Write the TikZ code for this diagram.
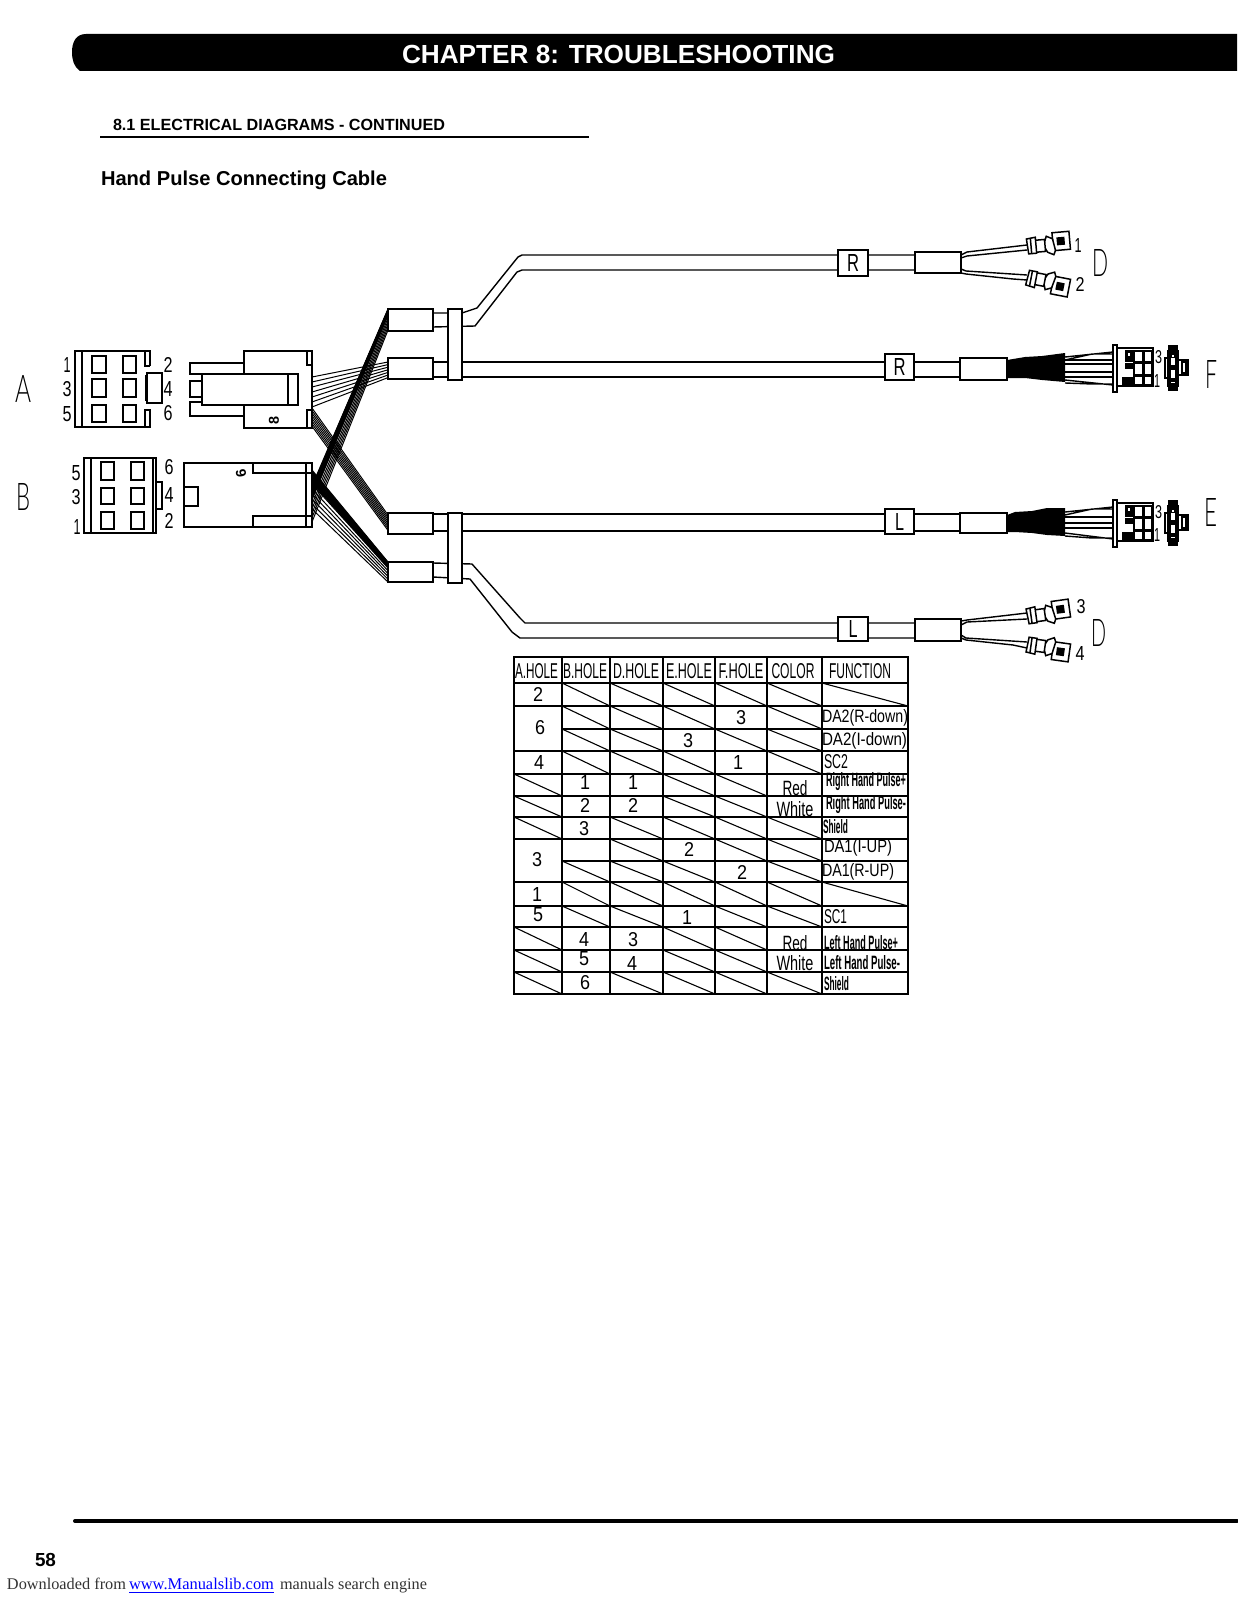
\documentclass[tikz,border=0pt]{standalone}
\usepackage{fontspec}
\setmainfont{Liberation Sans}
\newfontfamily\serifn{Liberation Serif}
\newfontfamily\thinf{Lato Light}
\newdimen\pxu \pxu=.5pt
\newcommand\cad[3]{\resizebox{#1\pxu}{#2\pxu}{#3}}
\newcommand\cadtxt[6][]{\node[txt,#1] (#2) at (#3) {\cad{#4}{#5}{#6}};}
\newcommand\biglet[5]{\node[txt] (#1) at (#2) {\cad{#3}{#4}{\thinf #5}};}
\newcommand\wbox[5]{%
 \pgfmathsetmacro\bxw{(#4-#2)*.5}\pgfmathsetmacro\bxh{(#5-#3)*.5}%
 \node[boxs,minimum width=\bxw pt,minimum height=\bxh pt] (#1) at ({(#2+#4)/2},{(#3+#5)/2}) {};}
\newcommand\termn[4]{%
 \begin{scope}[shift={(#1,#2)},rotate=#3,yscale=#4,line width=.75pt,fill=white]
  \draw (0,-7) -- (9,-8) -- (9,8) -- (1,8) -- cycle;
  \draw (9,-5) -- (18,-5) -- (18,7) -- (9,7);
  \draw (4,-7) -- (4,8);
  \draw (18,-3) -- (20,-8) -- (26,-5) -- (26,-11) -- (43,-11) -- (43,7) -- (28,7) -- (26,11) -- (20,8) -- (18,4);
  \draw (26,-5) -- (28,7);
  \fill[black] (30,-6) rectangle (38,2);
 \end{scope}}
\newcommand\plug[1]{%
 \begin{scope}[shift={(0,#1)}]
  \draw[wire,fill=white] (1113,345) rectangle (1117,392);
  \draw[wire,fill=white] (1117,348) rectangle (1153,386);
  \fill (1125,350) rectangle (1153,362);
  \fill (1125,363) rectangle (1133,369);
  \fill (1122,377) rectangle (1153,385);
  \fill (1133,362) rectangle (1153,385);
  \fill[white] (1128,353) rectangle (1130,356);
  \foreach \ya/\yb in {352/361,364/374,377/384}{
   \fill[white] (1135,\ya) rectangle (1142,\yb);
   \fill[white] (1145,\ya) rectangle (1151,\yb);}
  \draw[wire,fill=white] (1165,358) rectangle (1170,378);
  \draw[wire,fill=white] (1178,360) rectangle (1188,375);
  \draw[wire] (1182,362) rectangle (1186,373);
  \fill (1168,345) rectangle (1178,351);
  \fill (1168,386) rectangle (1178,391);
  \draw[wire,fill=white] (1168,351) rectangle (1178,386);
  \draw[wire] (1170,353) rectangle (1176,384);
  \fill (1171,354) rectangle (1175,358);
  \fill (1171,365) rectangle (1175,370);
  \fill (1171,378) rectangle (1175,382);
  \fill[white] (1172,355) rectangle (1174,357);
 \end{scope}}
\tikzset{
 boxs/.style={draw,fill=white,inner sep=0pt,outer sep=0pt,line width=.8pt},
 txt/.style={inner sep=0pt,outer sep=0pt},
 wire/.style={line width=.7pt},
 fine/.style={line width=.5pt},
 grid/.style={line width=.75pt},
 diag/.style={line width=.55pt},
}
\begin{document}
\begin{tikzpicture}[x=.5pt,y=-.5pt]
\useasboundingbox (0,0) rectangle (1237,1600);
\fill[white] (0,0) rectangle (1237,1600);
% header
\fill (1237,34) -- (86,34) .. controls (76,34) and (72,42) .. (72,52) .. controls (72,60) and (74,67) .. (80,71) -- (1237,71) -- cycle;
\node[txt,anchor=west,text=white] (title) at (402,54) {\resizebox{216.5pt}{!}{\bfseries CHAPTER 8: TROUBLESHOOTING}};
\node[txt,anchor=base west] (sect) at (113,131) {\resizebox{166pt}{!}{\bfseries 8.1 ELECTRICAL DIAGRAMS - CONTINUED}};
\draw[line width=1pt] (100,137) -- (589,137);
\node[txt,anchor=base west] (head) at (101,185) {\resizebox{143pt}{!}{\bfseries Hand Pulse Connecting Cable}};
% footer
\draw[line width=2pt,line cap=round] (75,1521) -- (1237,1521);
\node[txt] (pg) at (45.5,1560) {\resizebox{10.5pt}{!}{\bfseries 58}};
\node[txt,anchor=base west,text=black!80] (dl1) at (7,1589) {\resizebox{59.5pt}{!}{\serifn Downloaded from}};
\node[txt,anchor=base west,text=blue] (dl2) at (129,1589) {\resizebox{72.5pt}{!}{\serifn www.Manualslib.com}};
\draw[blue,line width=.4pt] (129,1592) -- (274,1592);
\node[txt,anchor=base west,text=black!80] (dl3) at (280,1589) {\resizebox{73.5pt}{!}{\serifn manuals search engine}};
% wire bundles
\foreach \t in {0,...,6} \draw[fine] (312,377+5*\t) -- (388,362+2.6*\t);
\foreach \t in {0,...,7} \draw[fine] (312,408+2.6*\t) -- (388,515+2.2*\t);
\foreach \t in {0,...,14} \draw[fine] (312,486+.9*\t) -- (388,309+.4*\t);
\foreach \t in {0,...,5} \draw[fine] (312,500+4.4*\t) -- (388,315+3*\t);
\foreach \t in {0,...,14} \draw[fine] (312,470+.9*\t) -- (388,562+.4*\t);
\foreach \t in {0,...,5} \draw[fine] (312,484+5*\t) -- (388,568+2.8*\t);
% connector A front
\draw[wire] (150,366) -- (150,351) -- (75,351) -- (75,427) -- (150,427) -- (150,410) -- (145,410) -- (145,427);
\draw[wire] (82,351) -- (82,427) (145,351) -- (145,366) -- (150,366);
\draw[wire] (92,356) rectangle (106,373) (123,356) rectangle (136,373);
\draw[wire] (92,379) rectangle (106,397) (123,379) rectangle (136,397);
\draw[wire] (92,405) rectangle (106,422) (123,405) rectangle (136,422);
\draw[wire] (147,373) rectangle (162,403);
\draw[line width=1.1pt] (146,375) -- (146,401);
% connector B front
\draw[wire] (84,458) rectangle (156,533) (91,458) -- (91,533) (153,458) -- (153,533);
\draw[wire] (101,462) rectangle (114,480) (131,462) rectangle (144,480);
\draw[wire] (101,488) rectangle (114,504) (131,488) rectangle (144,504);
\draw[wire] (101,512) rectangle (114,529) (131,512) rectangle (144,529);
\draw[wire] (156,482) -- (162,482) -- (162,509) -- (156,509);
% connector A side
\draw[wire] (244,373) -- (244,351) -- (312,351) -- (312,428) -- (244,428) -- (244,405);
\draw[wire] (244,363) -- (190,363) -- (190,374) -- (202,374);
\draw[wire] (202,381) -- (190,381) -- (190,397) -- (202,397);
\draw[wire] (202,402) -- (190,402) -- (190,416) -- (244,416);
\draw[wire] (202,374) rectangle (298,405) (288,374) -- (288,405);
\draw[wire] (307,351) -- (307,365) -- (312,365) (307,428) -- (307,410) -- (312,410);
\node[txt,rotate=90] (a8) at (274,420) {\cad{8}{10}{\bfseries 8}};
% connector B side
\draw[wire] (184,463) rectangle (312,527);
\draw[wire] (253,463) -- (253,473) -- (312,473) (253,527) -- (253,516) -- (312,516) (306,463) -- (306,527);
\draw[wire] (184,487) -- (198,487) -- (198,506) -- (184,506);
\node[txt,rotate=100] (b6) at (241,473) {\cad{8}{10}{\bfseries 6}};
% connector labels
\biglet{lA}{24,389}{16}{27}{A}
\biglet{lB}{23,497}{14}{27}{B}
\cadtxt{a1}{67,365}{7}{15}{1}
\cadtxt{a3}{67,389}{9}{15}{3}
\cadtxt{a5}{67,414}{9}{15}{5}
\cadtxt{a2}{168,365}{9}{15}{2}
\cadtxt{a4}{168,389}{9}{15}{4}
\cadtxt{a6}{168,413}{9}{15}{6}
\cadtxt{b5}{76,473}{9}{15}{5}
\cadtxt{b3}{76,497}{9}{15}{3}
\cadtxt{b1}{77,527}{7}{15}{1}
\cadtxt{b6t}{169,467}{9}{15}{6}
\cadtxt{b4}{169,495}{9}{15}{4}
\cadtxt{b2}{169,521}{9}{15}{2}
% cables: upper D
\coordinate (c1a) at (433,313); \coordinate (c1b) at (433,327);
\coordinate (s1a) at (915,255); \coordinate (s1b) at (915,270);
\draw[wire] (c1a) -- (462,313) -- (477,308) -- (518,257) -- (522,255) -- (s1a);
\draw[wire] (c1b) -- (475,326) -- (517,272) -- (522,270) -- (s1b);
% cable F
\coordinate (c2a) at (433,362); \coordinate (c2b) at (433,377);
\coordinate (s2a) at (960,362); \coordinate (s2b) at (960,377);
\draw[wire] (c2a) -- (s2a) (c2b) -- (s2b);
% cable E
\coordinate (c3a) at (433,514); \coordinate (c3b) at (433,531);
\coordinate (s3a) at (960,514); \coordinate (s3b) at (960,531);
\draw[wire] (c3a) -- (s3a) (c3b) -- (s3b);
% lower D
\coordinate (c4a) at (433,563); \coordinate (c4b) at (433,577);
\coordinate (s4a) at (915,623); \coordinate (s4b) at (915,638);
\draw[wire] (c4a) -- (472,564) -- (520,618) -- (525,623) -- (s4a);
\draw[wire] (c4b) -- (470,579) -- (512,632) -- (520,638) -- (s4b);
% boxes
\wbox{w1}{388}{309}{433}{331}
\wbox{w2}{388}{358}{433}{379}
\wbox{w3}{388}{513}{433}{534}
\wbox{w4}{388}{562}{433}{582}
\wbox{cl1}{448}{309}{462}{380}
\wbox{cl2}{448}{513}{462}{583}
\wbox{rb1}{838}{250}{868}{276}
\wbox{sl1}{915}{252}{961}{273}
\wbox{rb2}{885}{354}{914}{380}
\wbox{sl2}{960}{358}{1007}{380}
\wbox{lb3}{885}{509}{914}{534}
\wbox{sl3}{960}{513}{1007}{533}
\wbox{lb4}{838}{617}{868}{641}
\wbox{sl4}{915}{619}{961}{641}
\cadtxt{tR1}{rb1}{12}{17}{R}
\cadtxt{tR2}{rb2}{12}{17}{R}
\cadtxt{tL3}{lb3}{9}{17}{L}
\cadtxt{tL4}{lb4}{9}{17}{L}
% blobs
\fill (1007,360) -- (1025,357) -- (1042,356) -- (1065,353) -- (1065,382) -- (1042,380) -- (1025,378) -- (1007,378) -- cycle;
\fill (1007,515) -- (1015,512) -- (1032,511) -- (1047,508) -- (1065,508) -- (1065,536) -- (1047,535) -- (1032,533) -- (1015,532) -- (1007,532) -- cycle;
% wires to plugs
\draw[wire] (1065,357) -- (1113,352) (1065,360) -- (1092,354) -- (1113,354);
\draw[line width=.9pt] (1065,360) -- (1113,360) (1065,364) -- (1113,364) (1065,372) -- (1113,372) (1065,377) -- (1113,377);
\draw[wire] (1065,380) -- (1113,385) (1065,383) -- (1092,384) -- (1113,384);
\draw[wire] (1065,512) -- (1113,507) (1065,515) -- (1092,509) -- (1113,509);
\draw[line width=.9pt] (1065,517) -- (1113,517) (1065,523) -- (1113,523) (1065,528) -- (1113,528);
\draw[wire] (1065,533) -- (1113,539) (1065,536) -- (1092,538) -- (1113,538);
\plug{0}
\plug{155}
% D wires
\draw[wire] (961,255) -- (967,252) -- (1027,245) (961,258) -- (967,256) -- (1027,250);
\draw[wire] (961,269) -- (966,271) -- (1027,275) (961,273) -- (966,274) -- (1013,279) -- (1027,280);
\draw[wire] (961,621) -- (967,620) -- (1027,613) (961,625) -- (967,622) -- (1027,619);
\draw[wire] (961,635) -- (966,638) -- (1027,642) (961,638) -- (966,640) -- (1013,645) -- (1027,648);
\termn{1027}{246}{5}{1}
\termn{1027}{278}{-11}{-1}
\termn{1027}{616}{8}{1}
\termn{1027}{645}{-8}{-1}
% D,E,F labels
\cadtxt{d1}{1078,245}{7}{14}{1}
\cadtxt{d2}{1080,284}{9}{14}{2}
\cadtxt{d3}{1081,607}{9}{14}{3}
\cadtxt{d4}{1080,653}{9}{14}{4}
\biglet{lD1}{1100,263}{16}{27}{D}
\biglet{lD2}{1099,633}{15}{27}{D}
\biglet{lF}{1211,374}{12}{28}{F}
\biglet{lE}{1211,512}{13}{28}{E}
\cadtxt{f3}{1158.5,357}{7}{13}{3}
\cadtxt{f1}{1157,381}{6}{13}{1}
\cadtxt{e3}{1158.5,512}{7}{13}{3}
\cadtxt{e1}{1157,535}{6}{13}{1}
% table
\def\cx{{514,562,610,663,715,767,822,908}}
\draw[grid] (514,657) rectangle (908,994);
\foreach \c in {1,...,6}{\pgfmathsetmacro\xa{\cx[\c]}\draw[grid] (\xa,657) -- (\xa,994);}
\foreach \y in {683,706,751,774,796,817,839,882,906,927,950,972} \draw[grid] (514,\y) -- (908,\y);
\foreach \y in {729,861} \draw[grid] (562,\y) -- (908,\y);
\foreach \ya/\yb/\cols in {683/706/{1,2,3,4,5,6},706/729/{1,2,3,5},729/751/{1,2,4,5},751/774/{1,2,3,5},774/796/{0,3,4},796/817/{0,3,4},817/839/{0,2,3,4,5},839/861/{2,4,5},861/882/{1,2,3,5},882/906/{1,2,3,4,5,6},906/927/{1,2,4,5},927/950/{0,3,4},950/972/{0,3,4},972/994/{0,2,3,4,5}}{
 \foreach \c in \cols {
  \pgfmathsetmacro\xa{\cx[\c]}\pgfmathsetmacro\xb{\cx[\c+1]}
  \draw[diag] (\xa,\ya) -- (\xb,\yb);}}
% table text
\cadtxt{h1}{536.5,671}{43}{15}{A.HOLE}
\cadtxt{h2}{585,671}{44}{15}{B.HOLE}
\cadtxt{h3}{636,671}{46}{15}{D.HOLE}
\cadtxt{h4}{689,671}{46}{15}{E.HOLE}
\cadtxt{h5}{741,671}{45}{15}{F.HOLE}
\cadtxt{h6}{793,671}{43}{15}{COLOR}
\cadtxt{h7}{860,671}{62}{15}{FUNCTION}
\foreach \nm/\x/\y/\s in {n1/538/694/2,n2/540/728/6,n3/741/718/3,n4/688/741/3,n5/539/762/4,n6/738/762/1,n7/585/782/1,n8/633/782/1,n9/585/805/2,n10/633/805/2,n11/584/829/3,n12/537/860/3,n13/689/849/2,n14/742/872/2,n15/537/894/1,n16/538/915/5,n17/687/917/1,n18/584/939/4,n19/633/940/3,n20/584/959/5,n21/632/963/4,n22/585/983/6}{
 \node[txt] (\nm) at (\x,\y) {\cad{10}{14}{\s}};}
\cadtxt{c1}{795,788}{25}{15}{Red}
\cadtxt{c2}{795,809}{37}{15}{White}
\cadtxt{c3}{795,943}{25}{15}{Red}
\cadtxt{c4}{795,963}{37}{15}{White}
\cadtxt[anchor=west]{f1x}{822,718}{86}{13}{DA2(R-down)}
\cadtxt[anchor=west]{f2x}{822,741}{85}{13}{DA2(I-down)}
\cadtxt[anchor=west]{f3x}{824,762}{24}{14}{SC2}
\cadtxt[anchor=west]{f4x}{826,782}{80}{14}{\bfseries Right Hand Pulse+}
\cadtxt[anchor=west]{f5x}{826,805}{80}{14}{\bfseries Right Hand Pulse-}
\cadtxt[anchor=west]{f6x}{823,827}{25}{14}{\bfseries Shield}
\cadtxt[anchor=west]{f7x}{824,848}{68}{13}{DA1(I-UP)}
\cadtxt[anchor=west]{f8x}{822,872}{72}{13}{DA1(R-UP)}
\cadtxt[anchor=west]{f9x}{824,917}{23}{14}{SC1}
\cadtxt[anchor=west]{f10x}{824,943}{74}{14}{\bfseries Left Hand Pulse+}
\cadtxt[anchor=west]{f11x}{824,963}{76}{14}{\bfseries Left Hand Pulse-}
\cadtxt[anchor=west]{f12x}{824,984}{25}{14}{\bfseries Shield}
\end{tikzpicture}
\end{document}
